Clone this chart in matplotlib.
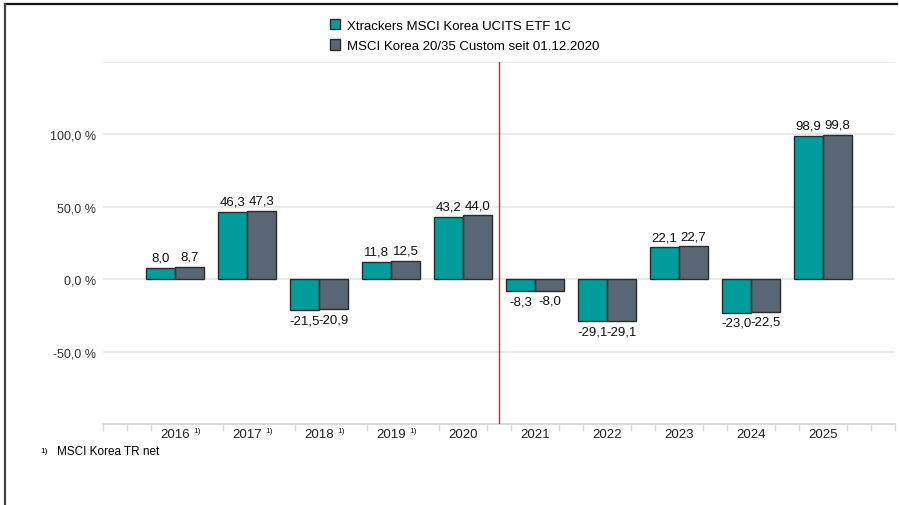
import matplotlib.pyplot as plt
import numpy as np
from matplotlib.lines import Line2D
from matplotlib.patches import Patch
from matplotlib.transforms import blended_transform_factory

plt.rcParams['font.family'] = ['Liberation Sans', 'DejaVu Sans']

# Daten
jahre = ['2016', '2017', '2018', '2019', '2020', '2021', '2022', '2023', '2024', '2025']
fussnote = [True, True, True, True, False, False, False, False, False, False]
etf = [8.0, 46.3, -21.5, 11.8, 43.2, -8.3, -29.1, 22.1, -23.0, 98.9]
index = [8.7, 47.3, -20.9, 12.5, 44.0, -8.0, -29.1, 22.7, -22.5, 99.8]
yticks = [100, 50, 0, -50]
namen = ['Xtrackers MSCI Korea UCITS ETF 1C', 'MSCI Korea 20/35 Custom seit 01.12.2020']
farben = ['#009b9b', '#586773']

fig = plt.figure(figsize=(8.99, 5.06), dpi=100)
ax = fig.add_axes([103 / 899, 1 - 425 / 506, 792 / 899, (425 - 63) / 506])

x = np.arange(len(jahre))
w = 0.4
ax.bar(x - w / 2, etf, w, color=farben[0], edgecolor='#2b2b2b', linewidth=1, zorder=3)
ax.bar(x + w / 2, index, w, color=farben[1], edgecolor='#2b2b2b', linewidth=1, zorder=3)

# Werte beschriften
for xs, vals in ((x - w / 2, etf), (x + w / 2, index)):
    for xi, v in zip(xs, vals):
        txt = f'{v:.1f}'.replace('.', ',')
        if v >= 0:
            ax.annotate(txt, (xi, v), xytext=(0, 3), textcoords='offset points',
                        ha='center', va='bottom', fontsize=9.5, color='#111111')
        else:
            ax.annotate(txt, (xi, v), xytext=(0, -3), textcoords='offset points',
                        ha='center', va='top', fontsize=9.5, color='#111111')

ax.set_xlim(-1.0, 10.0)
ax.set_ylim(-100, 150)

# Gitter
for g in [150, 100, 50, 0, -50]:
    ax.axhline(g, color='#e6e6e6', linewidth=1.2, zorder=1)
for s in ['top', 'right', 'left']:
    ax.spines[s].set_visible(False)
ax.spines['bottom'].set_color('#dcdcdc')
ax.spines['bottom'].set_linewidth(1.5)

ax.set_yticks(yticks)
ax.set_yticklabels([f'{t:.1f} %'.replace('.', ',') for t in yticks], fontsize=9, color='#333333')
ax.tick_params(axis='y', length=0, pad=5)

# kleine Striche unten, dort wo keine Beschriftung liegt
striche = []
for k in range(-3, 31):
    p = k / 3
    i = int(round(p))
    if k % 3 == 0 and 0 <= i < len(jahre):
        continue
    if k % 3 == 1 and 0 <= (k - 1) // 3 < len(jahre) and fussnote[(k - 1) // 3]:
        continue
    striche.append(p)
ax.set_xticks(striche)
ax.set_xticklabels([])
ax.tick_params(axis='x', length=5, color='#d8d8d8', width=1)

trans = blended_transform_factory(ax.transData, ax.transAxes)
for xi, j, f in zip(x, jahre, fussnote):
    ax.text(xi, -0.012, j, transform=trans, ha='center', va='top', fontsize=9.5, color='#222222')
    if f:
        ax.text(xi + 0.3, -0.008, '1)', transform=trans, ha='center', va='top', fontsize=6, color='#222222')

ax.axvline(4.5, color='#e02020', linewidth=1, zorder=4)

# Legende
handles = [Patch(facecolor=c, edgecolor='#2b2b2b', linewidth=1) for c in farben]
fig.legend(handles, namen, loc='upper left', bbox_to_anchor=(318 / 899, 1 - 8 / 506),
           frameon=False, fontsize=9.5, handlelength=0.8, handleheight=0.8,
           handletextpad=0.5, labelspacing=0.6)

# Fussnote
fig.text(40 / 899, 1 - 452 / 506, '1)', fontsize=6, va='center', ha='left')
fig.text(57 / 899, 1 - 452 / 506, 'MSCI Korea TR net', fontsize=8.5, va='center', ha='left')

# Rahmen
fig.add_artist(Line2D([5 / 899, 897 / 899], [1 - 5 / 506, 1 - 5 / 506], color='#111111', linewidth=1.6))
fig.add_artist(Line2D([5 / 899, 5 / 899], [0, 1 - 5 / 506], color='#444444', linewidth=1.6))

fig.savefig('out.png', dpi=100)
